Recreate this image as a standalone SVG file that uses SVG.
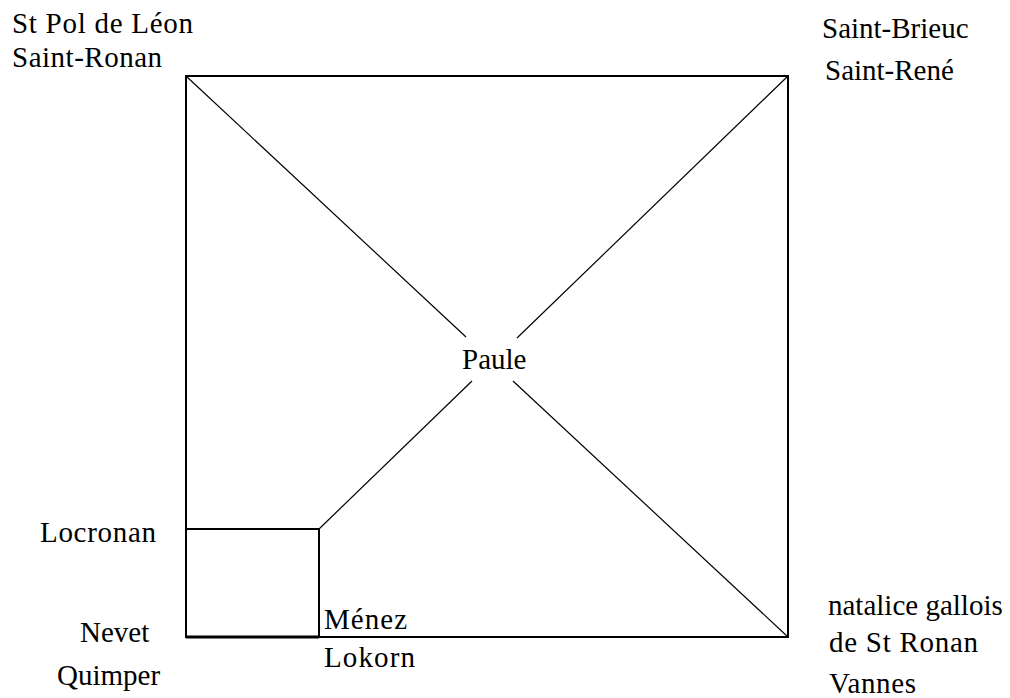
<svg xmlns="http://www.w3.org/2000/svg" width="1010" height="698" viewBox="0 0 1010 698">
<style>
text{font-family:'Liberation Serif','DejaVu Serif',serif;font-size:29px;fill:#000}
.frame{fill:none;stroke:#000;stroke-width:2}
.diag{fill:none;stroke:#000;stroke-width:1.2}
</style>
<rect width="1010" height="698" fill="#fff"/>
<g id="frame">
<rect class="frame" x="186" y="76" width="602" height="561"/>
</g>
<g id="small-box">
<rect class="frame" x="186" y="529" width="133" height="108"/>
<line x1="186" y1="637" x2="319" y2="637" stroke="#000" stroke-width="3"/>
</g>
<g id="connectors">
<line class="diag" x1="186" y1="76" x2="466" y2="337"/>
<line class="diag" x1="513" y1="381" x2="788" y2="637"/>
<line class="diag" x1="788" y1="76" x2="517" y2="338"/>
<line class="diag" x1="472" y1="381" x2="319" y2="529"/>
</g>
<g id="nw"><text x="12" y="33" textLength="181" lengthAdjust="spacing">St Pol de Léon</text><text x="12" y="67" textLength="150" lengthAdjust="spacing">Saint-Ronan</text></g>
<g id="ne"><text x="822" y="38">Saint-Brieuc</text><text x="825" y="80">Saint-René</text></g>
<g id="center"><text x="462" y="369">Paule</text></g>
<g id="locronan"><text x="40" y="542" textLength="116" lengthAdjust="spacing">Locronan</text></g>
<g id="sw"><text x="80" y="642">Nevet</text><text x="57" y="685">Quimper</text></g>
<g id="menez"><text x="324" y="629" textLength="83" lengthAdjust="spacing">Ménez</text><text x="324" y="667" textLength="91" lengthAdjust="spacing">Lokorn</text></g>
<g id="se"><text x="828" y="615">natalice gallois</text><text x="829" y="652" textLength="149" lengthAdjust="spacing">de St Ronan</text><text x="829" y="693" textLength="87" lengthAdjust="spacing">Vannes</text></g>
</svg>
